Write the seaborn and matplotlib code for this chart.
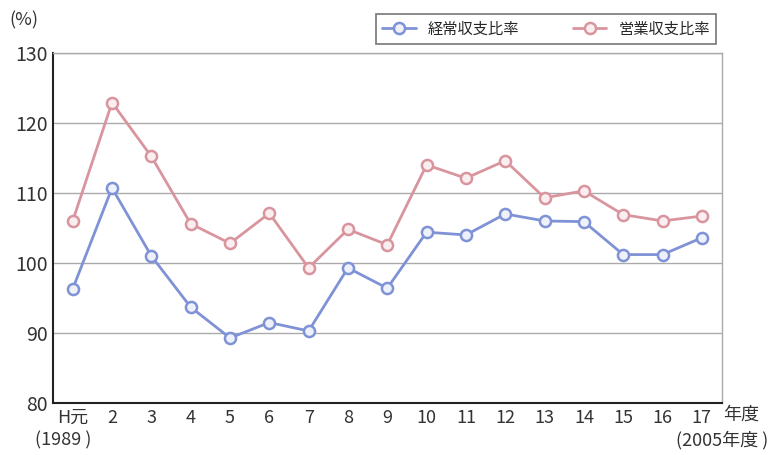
import numpy as np
import pandas as pd
import matplotlib
matplotlib.use('Agg')
import matplotlib.pyplot as plt
import seaborn as sns

### data
years = ['H元', '2', '3', '4', '5', '6', '7', '8', '9', '10', '11', '12', '13', '14', '15', '16', '17']
keijo = [96.3, 110.7, 101.0, 93.7, 89.3, 91.5, 90.3, 99.3, 96.4, 104.4, 104.0, 107.0, 106.0, 105.9, 101.2, 101.2, 103.6]
eigyo = [106.0, 122.9, 115.2, 105.6, 102.8, 107.1, 99.3, 104.8, 102.6, 114.0, 112.1, 114.6, 109.3, 110.3, 106.9, 106.0, 106.7]
series_names = ['経常収支比率', '営業収支比率']
yticks = [80, 90, 100, 110, 120, 130]

data = pd.DataFrame({'pos': list(range(len(years))) * 2,
                     'value': keijo + eigyo,
                     'series': [series_names[0]] * len(years) + [series_names[1]] * len(years)})

#%% plot
sns.set_style('white')
plt.rcParams['font.family'] = ['Noto Sans CJK JP', 'DejaVu Sans']
plt.rcParams['font.size'] = 12

line_colors = {series_names[0]: '#7f92d6', series_names[1]: '#d9959e'}
face_colors = {series_names[0]: '#eef1fa', series_names[1]: '#faeef0'}

fig = plt.figure(figsize=(7.8, 4.55), dpi=100)
ax = fig.add_axes([0.068, 0.114, 0.857, 0.77])

for name in series_names:
    sub = data.loc[data['series'] == name, :]
    sns.lineplot(data=sub, x='pos', y='value', ax=ax, color=line_colors[name], linewidth=2,
                 marker='o', markersize=8, markerfacecolor=face_colors[name],
                 markeredgecolor=line_colors[name], markeredgewidth=1.8, label=name, legend=False)

ax.set_xlim(-0.5, len(years) - 0.5)
ax.set_ylim(80, 130)
ax.set_yticks(yticks)
ax.set_yticklabels([str(v) for v in yticks], fontsize=14, color='#333333')
ax.set_xticks(range(len(years)))
ax.set_xticklabels(years, fontsize=13, color='#333333')
ax.tick_params(axis='both', length=0, pad=4)
ax.set_xticks(np.arange(0.5, len(years) - 1, 1), minor=True)
ax.tick_params(axis='x', which='minor', direction='in', length=5, width=1.2, color='#222222')
ax.grid(axis='y', color='#aaaaaa', linewidth=1)
ax.set_xlabel('')
ax.set_ylabel('')

for s in ['left', 'bottom']:
    ax.spines[s].set_color('#222222')
    ax.spines[s].set_linewidth(1.5)
for s in ['top', 'right']:
    ax.spines[s].set_color('#aaaaaa')
    ax.spines[s].set_linewidth(1)

fig.text(0.012, 0.955, '(%)', fontsize=13, color='#333333', va='center')
fig.text(0.927, 0.088, '年度', fontsize=13, color='#333333', va='center', ha='left')
fig.text(0.045, 0.033, '(1989 )', fontsize=13, color='#333333', va='center')
fig.text(0.985, 0.033, '(2005年度 )', fontsize=13, color='#333333', va='center', ha='right')

handles, labels = ax.get_legend_handles_labels()
leg = fig.legend(handles, labels, loc='upper right', bbox_to_anchor=(0.928, 0.985), ncol=2,
                 fontsize=11, frameon=True, fancybox=False, edgecolor='#555555',
                 handlelength=2.2, columnspacing=3.5, borderpad=0.4)
leg.get_frame().set_linewidth(1.2)

fig.savefig('out.png', dpi=100)
